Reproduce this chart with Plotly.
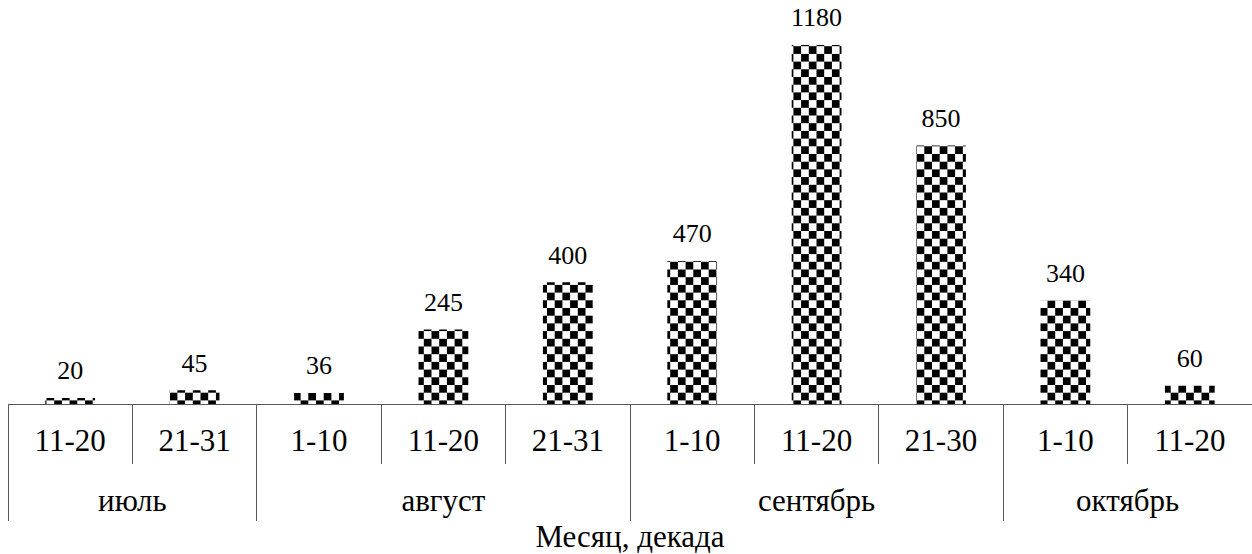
import plotly.graph_objects as go

# Ten-day periods (декады) grouped by month
months = ["июль", "июль", "август", "август", "август",
          "сентябрь", "сентябрь", "сентябрь", "октябрь", "октябрь"]
decades = ["11-20", "21-31", "1-10", "11-20", "21-31",
           "1-10", "11-20", "21-30", "1-10", "11-20"]
values = [20, 45, 36, 245, 400, 470, 1180, 850, 340, 60]
x_title = "Месяц, декада"

FONT = "Liberation Serif"
LINE = "#595959"

n = len(values)
pos = list(range(n))
bounds = [i - 0.5 for i in range(n + 1)]

# month groups: centre and edges of each run of equal month names
month_names, month_centres, month_edges = [], [], [-0.5]
start = 0
for i in range(1, n + 1):
    if i == n or months[i] != months[start]:
        month_names.append(months[start])
        month_centres.append((start + i - 1) / 2)
        month_edges.append(i - 0.5)
        start = i

fig = go.Figure()

fig.add_trace(go.Bar(
    x=pos, y=values,
    width=0.4,
    marker=dict(color="white", line=dict(width=0),
                pattern=dict(shape="x", fgcolor="black", bgcolor="white",
                             size=8, solidity=0.5)),
    customdata=[[m, d] for m, d in zip(months, decades)],
    hovertemplate="%{customdata[0]}, %{customdata[1]}: %{y}<extra></extra>",
))

# value labels above the bars (on the month axis, which shares the scale)
fig.add_trace(go.Scatter(
    x=pos, y=values,
    xaxis="x2", yaxis="y",
    mode="markers+text",
    text=[str(v) for v in values],
    textposition="top center",
    textfont=dict(family=FONT, size=26, color="black"),
    marker=dict(size=18, opacity=0),
    hoverinfo="skip",
    cliponaxis=False,
))

fig.update_layout(
    width=1252, height=554,
    margin=dict(l=8, r=0, t=0, b=150),
    paper_bgcolor="white", plot_bgcolor="white",
    showlegend=False,
    font=dict(family=FONT, color="black"),
    xaxis=dict(
        range=[-0.5, n - 0.5],
        showline=True, linecolor=LINE, linewidth=1.3,
        tickmode="array", tickvals=pos, ticktext=decades, ticks="",
        ticklabelstandoff=9,
        tickfont=dict(family=FONT, size=31, color="black"),
        minor=dict(tickmode="array", tickvals=bounds, ticks="outside",
                   ticklen=59, tickcolor=LINE, tickwidth=1.3, showgrid=False),
        showgrid=False, zeroline=False, fixedrange=True,
    ),
    xaxis2=dict(
        overlaying="x", anchor="y", matches="x",
        range=[-0.5, n - 0.5],
        side="bottom",
        showline=False,
        tickmode="array", tickvals=month_centres, ticktext=month_names, ticks="",
        ticklabelstandoff=75,
        tickfont=dict(family=FONT, size=31, color="black"),
        minor=dict(tickmode="array", tickvals=month_edges, ticks="outside",
                   ticklen=116, tickcolor=LINE, tickwidth=1.3, showgrid=False),
        title=dict(text=x_title, font=dict(family=FONT, size=31, color="black"),
                   standoff=10),
        showgrid=False, zeroline=False, fixedrange=True,
    ),
    yaxis=dict(range=[0, 1328], visible=False, showgrid=False, zeroline=False,
               fixedrange=True),
)

checker_js = """
(function () {
  var gd = document.getElementById('{plot_id}');
  var ns = 'http://www.w3.org/2000/svg';
  var cell = 7.7;
  function paint() {
    var svg = gd.querySelector('svg.main-svg');
    if (!svg) return;
    var defs = svg.querySelector('defs');
    if (!svg.querySelector('#checker-fill')) {
      var pat = document.createElementNS(ns, 'pattern');
      pat.setAttribute('id', 'checker-fill');
      pat.setAttribute('patternUnits', 'userSpaceOnUse');
      pat.setAttribute('width', 2 * cell);
      pat.setAttribute('height', 2 * cell);
      var bg = document.createElementNS(ns, 'rect');
      bg.setAttribute('width', 2 * cell); bg.setAttribute('height', 2 * cell);
      bg.setAttribute('fill', 'white');
      pat.appendChild(bg);
      [[0, 0], [cell, cell]].forEach(function (p) {
        var r = document.createElementNS(ns, 'rect');
        r.setAttribute('x', p[0]); r.setAttribute('y', p[1]);
        r.setAttribute('width', cell); r.setAttribute('height', cell);
        r.setAttribute('fill', 'black');
        pat.appendChild(r);
      });
      defs.appendChild(pat);
    }
    gd.querySelectorAll('.barlayer .bars path').forEach(function (p) {
      p.style.fill = 'url(#checker-fill)';
    });
  }
  paint();
  if (gd.on) gd.on('plotly_afterplot', paint);
})();
"""

fig.write_html("out.html", post_script=checker_js)
